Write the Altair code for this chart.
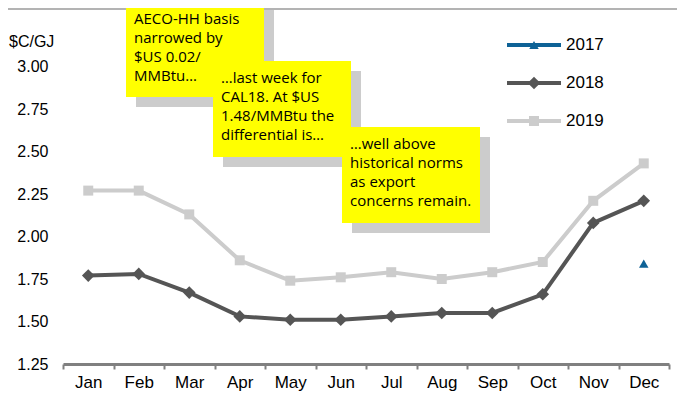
import altair as alt
import pandas as pd

months = ["Jan", "Feb", "Mar", "Apr", "May", "Jun", "Jul", "Aug", "Sep", "Oct", "Nov", "Dec"]
series = ["2017", "2018", "2019"]
v2017 = [None] * 11 + [1.84]
v2018 = [1.77, 1.78, 1.67, 1.53, 1.51, 1.51, 1.53, 1.55, 1.55, 1.66, 2.08, 2.21]
v2019 = [2.27, 2.27, 2.13, 1.86, 1.74, 1.76, 1.79, 1.75, 1.79, 1.85, 2.21, 2.43]
y_ticks = [1.25, 1.50, 1.75, 2.00, 2.25, 2.50, 2.75, 3.00]
unit_label = "$C/GJ"
notes = [
    ["AECO-HH basis", "narrowed by", "$US 0.02/", "MMBtu…"],
    ["…last week for", "CAL18. At $US", "1.48/MMBtu the", "differential is…"],
    ["…well above", "historical norms", "as export", "concerns remain."],
]

colors = {"2017": "#0e6296", "2018": "#555555", "2019": "#cccccc"}
shapes = {"2017": "triangle-up", "2018": "diamond", "2019": "square"}
sizes = {"2017": 90, "2018": 160, "2019": 100}

rows = []
for s, vals in zip(series, [v2017, v2018, v2019]):
    for m, v in zip(months, vals):
        if v is not None:
            rows.append({"month": m, "series": s, "value": v})
df = pd.DataFrame(rows)

AX_FONT = "Liberation Sans"
NOTE_FONT = "Open Sans"

W, H = 606, 297.5

x_enc = alt.X(
    "month:N", sort=months,
    scale=alt.Scale(type="band", paddingInner=0, paddingOuter=0),
    axis=alt.Axis(title=None, labelAngle=0, tickBand="extent", grid=False,
                  domainColor="#808080", domainWidth=3, tickColor="#808080",
                  tickWidth=2, tickSize=5, labelFont=AX_FONT, labelFontSize=17,
                  labelColor="black", labelPadding=5),
)
y_enc = alt.Y(
    "value:Q",
    scale=alt.Scale(domain=[1.25, 3.0], nice=False, zero=False),
    axis=alt.Axis(title=None, values=y_ticks, format=".2f", domain=False, ticks=False,
                  grid=False, labelFont=AX_FONT, labelFontSize=16, labelColor="black",
                  labelPadding=15),
)

base = alt.Chart(df).encode(x=x_enc, y=y_enc)

layers = []
for s in ["2019", "2018", "2017"]:
    sub = base.transform_filter(alt.datum.series == s)
    if s != "2017":
        layers.append(sub.mark_line(color=colors[s], strokeWidth=4))
    layers.append(sub.mark_point(shape=shapes[s], filled=True, size=sizes[s],
                                 color=colors[s], opacity=1))

dummy = pd.DataFrame({"k": [0]})

# top gray band
layers.append(alt.Chart(dummy).mark_rect(color="#b3b3b3").encode(
    x=alt.value(-55), x2=alt.value(W + 8), y=alt.value(-58.5), y2=alt.value(-56.5)))

# manual legend
leg_y = [-21.5, 16.5, 54.5]
for s, ly in zip(series, leg_y):
    ldf = pd.DataFrame({"series": [s]})
    layers.append(alt.Chart(ldf).mark_rule(color=colors[s], strokeWidth=4).encode(
        x=alt.value(444), x2=alt.value(498), y=alt.value(ly)))
    layers.append(alt.Chart(ldf).mark_point(shape=shapes[s], filled=True, size=sizes[s],
                                            color=colors[s], opacity=1).encode(
        x=alt.value(471), y=alt.value(ly)))
    layers.append(alt.Chart(ldf).mark_text(align="left", baseline="middle", font=AX_FONT,
                                           fontSize=17, color="black").encode(
        text="series:N", x=alt.value(503), y=alt.value(ly)))

# y unit label
ulab = pd.DataFrame({"t": [unit_label]})
layers.append(alt.Chart(ulab).mark_text(align="left", baseline="middle", font=AX_FONT,
                                        fontSize=16, color="black").encode(
    text="t:N", x=alt.value(-54), y=alt.value(-24.5)))

# annotation boxes: (x0, x1, y0, y1) of yellow box in plot coords, first text line offset
boxes = [(63, 201, -66.5, 30.5, 19), (150, 288, -5.5, 90.5, 17), (279, 417, 60.5, 156.5, 17)]
LINE_H = 19
for (x0, x1, y0, y1, first), lines in zip(boxes, notes):
    layers.append(alt.Chart(dummy).mark_rect(color="#cccccc").encode(
        x=alt.value(x0 + 10), x2=alt.value(x1 + 10), y=alt.value(y0 + 10), y2=alt.value(y1 + 10)))
    layers.append(alt.Chart(dummy).mark_rect(color="#ffff00").encode(
        x=alt.value(x0), x2=alt.value(x1), y=alt.value(y0), y2=alt.value(y1)))
    for i, line in enumerate(lines):
        tdf = pd.DataFrame({"t": [line]})
        layers.append(alt.Chart(tdf).mark_text(align="left", baseline="middle", font=NOTE_FONT,
                                               fontSize=15, color="black").encode(
            text="t:N", x=alt.value(x0 + 8), y=alt.value(y0 + first + i * LINE_H)))

chart = alt.layer(*layers).properties(
    width=W, height=H,
    autosize=alt.AutoSizeParams(type="none"),
    padding={"left": 55, "top": 58.5, "right": 8, "bottom": 32},
    background="white",
).configure_view(stroke=None)

chart.save("out.html", embed_options={"renderer": "svg", "actions": False})
